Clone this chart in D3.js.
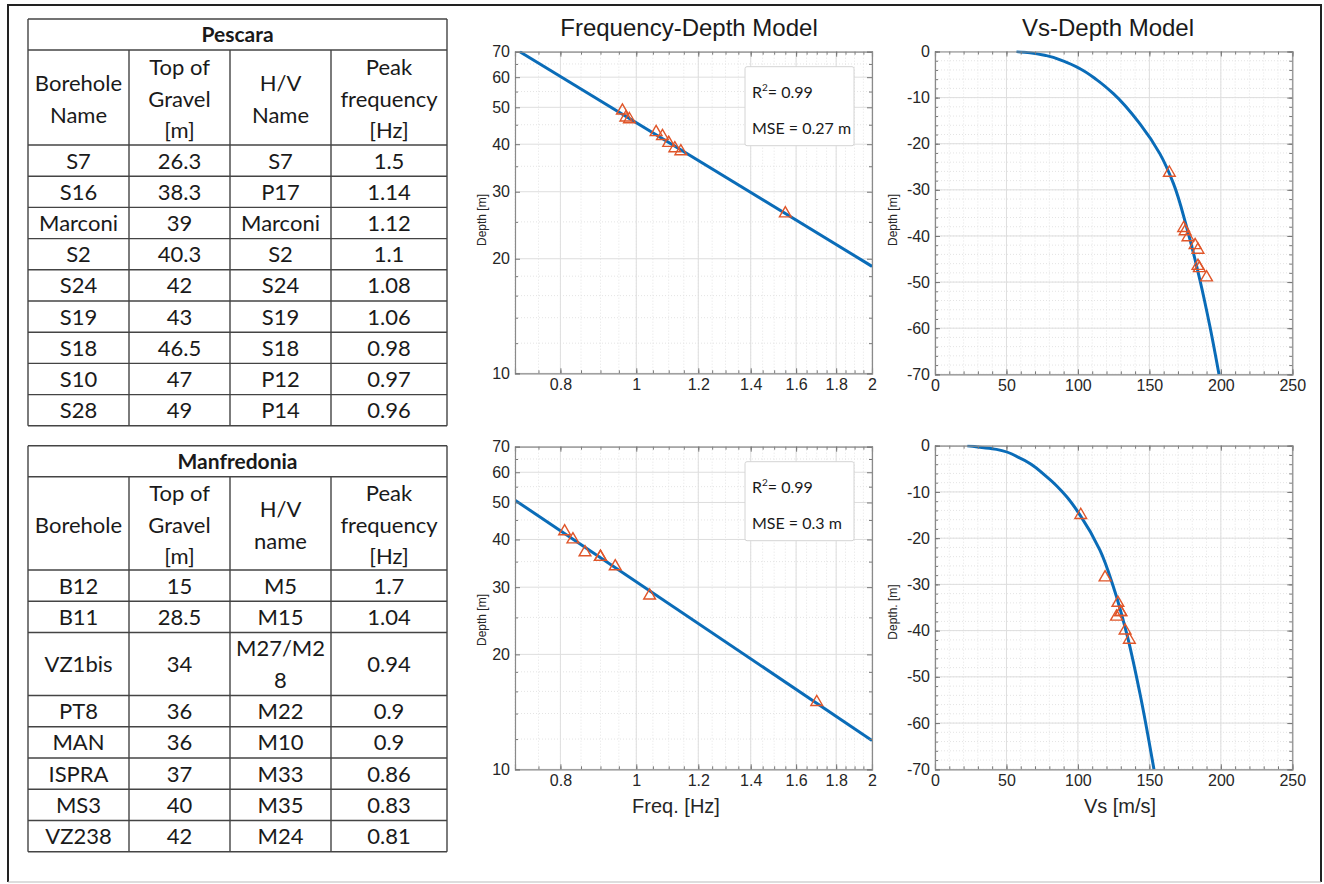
<!DOCTYPE html>
<html>
<head>
<meta charset="utf-8">
<title>Frequency-Depth and Vs-Depth models</title>
<script src="https://cdn.jsdelivr.net/npm/d3@7"></script>
<style>
  body { margin: 0; background: #fff; }
  .cell { font-family: Lato, "Open Sans", sans-serif; font-size: 22px; fill: #1a1a1a; text-anchor: middle; }
  .cell.title { font-weight: bold; font-size: 21px; }
  .tick text, .lbl { font-family: "Liberation Sans", Arial, sans-serif; fill: #262626; }
  .tick text { font-size: 16px; }
  .ttl { font-family: "Liberation Sans", Arial, sans-serif; font-size: 24px; fill: #1a1a1a; text-anchor: middle; }
  .leg { font-family: Lato, "Open Sans", sans-serif; font-size: 16px; fill: #1a1a1a; }
</style>
</head>
<body>
<svg id="fig" width="1324" height="884"></svg>
<script>
// ---- table data ----
var pescaraBorehole = ["S7", "S16", "Marconi", "S2", "S24", "S19", "S18", "S10", "S28"];
var pescaraGravel   = ["26.3", "38.3", "39", "40.3", "42", "43", "46.5", "47", "49"];
var pescaraHV       = ["S7", "P17", "Marconi", "S2", "S24", "S19", "S18", "P12", "P14"];
var pescaraPeak     = ["1.5", "1.14", "1.12", "1.1", "1.08", "1.06", "0.98", "0.97", "0.96"];

var manfBorehole = ["B12", "B11", "VZ1bis", "PT8", "MAN", "ISPRA", "MS3", "VZ238"];
var manfGravel   = ["15", "28.5", "34", "36", "36", "37", "40", "42"];
var manfHV       = ["M5", "M15", "M27/M2\n8", "M22", "M10", "M33", "M35", "M24"];
var manfPeak     = ["1.7", "1.04", "0.94", "0.9", "0.9", "0.86", "0.83", "0.81"];

var pescaraHeader = [["Borehole", "Name"], ["Top of", "Gravel", "[m]"], ["H/V", "Name"], ["Peak", "frequency", "[Hz]"]];
var manfHeader    = [["Borehole"], ["Top of", "Gravel", "[m]"], ["H/V", "name"], ["Peak", "frequency", "[Hz]"]];

// ---- plotted points ----
var pescaraFreq  = [1.55, 1.14, 1.12, 1.1, 1.08, 1.06, 0.98, 0.97, 0.96];
var pescaraDepth = [26.3, 38.3, 39, 40.3, 42, 43, 46.5, 47, 49];
var pescaraVs    = [164, 174, 175, 177, 182, 184, 184, 185, 190];

var manfFreq  = [1.7, 1.04, 0.94, 0.9, 0.9, 0.86, 0.83, 0.81];
var manfDepth = [15, 28.5, 34, 36, 36, 37, 40, 42];
var manfVs    = [102, 119, 128, 130, 130, 127, 133, 136];

// fitted power laws (straight in log-log): [freq, depth]
var pescaraFit = [[0.71, 70], [2, 19.1]];
var manfFit    = [[0.7, 50.7], [2, 11.9]];

// Vs model curves: [Vs, depth]
var pescaraVsCurve = [[57, 0], [66.5, -0.3], [78, -0.9], [90, -2.1], [101.5, -3.75], [113, -6.1], [125, -9.2],
  [143.4, -15.7], [157.4, -22.2], [166.8, -28.6], [176, -38], [185.4, -49.6], [192.4, -59.7], [198.7, -70]];
var manfVsCurve = [[22.6, 0], [43, -0.8], [59.5, -2.7], [78, -6.7], [92, -11], [101.5, -15], [115.4, -22.6],
  [124.8, -30.5], [134.1, -40.6], [143.4, -53.6], [153.2, -70]];

var stats = [{r2: "0.99", mse: "0.27 m"}, {r2: "0.99", mse: "0.3 m"}];

// ---- axis ticks ----
var freqTicks  = [0.8, 1, 1.2, 1.4, 1.6, 1.8, 2];
var freqMinor  = d3.range(0.7, 2.001, 0.05);
var depthTicks = [10, 20, 30, 40, 50, 60, 70];
var depthMinor = [12, 14, 16, 18, 25, 35, 45, 55, 65];
var vsTicks    = [0, 50, 100, 150, 200, 250];
var vsMinor    = d3.range(0, 251, 10);
var zTicks     = [-70, -60, -50, -40, -30, -20, -10, 0];
var zMinor     = d3.range(-70, 0.1, 2);

var svg = d3.select("#fig");

// outer frame
svg.append("path").attr("d", "M8,882V5H1321V882").attr("fill", "none").attr("stroke", "#222").attr("stroke-width", 2);
svg.append("line").attr("x1", 8).attr("x2", 1321).attr("y1", 882).attr("y2", 882).attr("stroke", "#bbb");

// ---- tables ----
var colX = [28, 129, 230, 331, 447];
var lineH = 31.5;

function drawTable(top, title, titleH, headerH, header, cols, rowH) {
  var g = svg.append("g");
  var nRows = cols[0].length;
  var rows = d3.range(nRows).map(function(i) {
    var cells = cols.map(function(c) { return c[i].split("\n"); });
    return {cells: cells, n: d3.max(cells, function(c) { return c.length; })};
  });
  var ys = [top, top + titleH, top + titleH + headerH];
  rows.forEach(function(r) { ys.push(ys[ys.length - 1] + rowH * r.n + (r.n - 1) * 0.5); });

  g.append("text").attr("class", "cell title").attr("x", (colX[0] + colX[4]) / 2)
    .attr("y", top + titleH / 2).attr("dy", "0.36em").text(title);

  function cellText(lines, cx, cy, gap) {
    lines.forEach(function(t, k) {
      g.append("text").attr("class", "cell").attr("x", cx)
        .attr("y", cy + (k - (lines.length - 1) / 2) * gap).attr("dy", "0.36em").text(t);
    });
  }
  header.forEach(function(lines, j) {
    cellText(lines, (colX[j] + colX[j + 1]) / 2, (ys[1] + ys[2]) / 2 + 1.5, lineH);
  });
  rows.forEach(function(r, i) {
    r.cells.forEach(function(lines, j) {
      cellText(lines, (colX[j] + colX[j + 1]) / 2, (ys[i + 2] + ys[i + 3]) / 2, lineH);
    });
  });

  var bottom = ys[ys.length - 1];
  g.selectAll(".h").data(ys).enter().append("line")
    .attr("x1", colX[0]).attr("x2", colX[4]).attr("y1", function(d) { return d; }).attr("y2", function(d) { return d; })
    .attr("stroke", "#444").attr("stroke-width", 1.4);
  g.selectAll(".v").data(colX).enter().append("line")
    .attr("x1", function(d) { return d; }).attr("x2", function(d) { return d; })
    .attr("y1", function(d, i) { return (i === 0 || i === 4) ? top : ys[1]; }).attr("y2", bottom)
    .attr("stroke", "#444").attr("stroke-width", 1.4);
}

drawTable(19, "Pescara", 31, 95, pescaraHeader, [pescaraBorehole, pescaraGravel, pescaraHV, pescaraPeak], 31.2);
drawTable(445.7, "Manfredonia", 31, 93.3, manfHeader, [manfBorehole, manfGravel, manfHV, manfPeak], 31.25);

// ---- axes helper ----
var plain = function(d) { return String(d); };
var clipId = 0;
function axesBox(x, y, xt, xm, yt, ym) {
  var g = svg.append("g");
  var x0 = x.range()[0], x1 = x.range()[1], yb = y.range()[0], yt0 = y.range()[1];

  g.append("rect").attr("x", x0).attr("y", yt0).attr("width", x1 - x0).attr("height", yb - yt0).attr("fill", "#fff");
  // grid
  g.selectAll(".gmx").data(xm).enter().append("line")
    .attr("x1", x).attr("x2", x).attr("y1", yt0).attr("y2", yb)
    .attr("stroke", "#e4e4e4").attr("stroke-dasharray", "1,2");
  g.selectAll(".gmy").data(ym).enter().append("line")
    .attr("y1", y).attr("y2", y).attr("x1", x0).attr("x2", x1)
    .attr("stroke", "#e4e4e4").attr("stroke-dasharray", "1,2");
  g.selectAll(".gx").data(xt).enter().append("line")
    .attr("x1", x).attr("x2", x).attr("y1", yt0).attr("y2", yb).attr("stroke", "#dedede");
  g.selectAll(".gy").data(yt).enter().append("line")
    .attr("y1", y).attr("y2", y).attr("x1", x0).attr("x2", x1).attr("stroke", "#dedede");

  var clip = "clip" + (clipId++);
  g.append("clipPath").attr("id", clip).append("rect")
    .attr("x", x0).attr("y", yt0 - 1).attr("width", x1 - x0).attr("height", yb - yt0 + 2);

  var axes = [
    d3.axisBottom(x).tickValues(xt).tickFormat(plain).tickSize(-5).tickPadding(5),
    d3.axisTop(x).tickValues(xt).tickFormat("").tickSize(-5),
    d3.axisLeft(y).tickValues(yt).tickFormat(plain).tickSize(-5).tickPadding(5),
    d3.axisRight(y).tickValues(yt).tickFormat("").tickSize(-5)
  ];
  var pos = ["translate(0," + yb + ")", "translate(0," + yt0 + ")", "translate(" + x0 + ",0)", "translate(" + x1 + ",0)"];
  var minor = [
    d3.axisBottom(x).tickValues(xm).tickFormat("").tickSize(-3),
    d3.axisTop(x).tickValues(xm).tickFormat("").tickSize(-3),
    d3.axisLeft(y).tickValues(ym).tickFormat("").tickSize(-3),
    d3.axisRight(y).tickValues(ym).tickFormat("").tickSize(-3)
  ];
  var front = svg.append("g");
  axes.forEach(function(a, i) {
    var m = front.append("g").attr("transform", pos[i]).call(minor[i]);
    m.select(".domain").remove();
    m.selectAll("line").attr("stroke", "#777");
    var ag = front.append("g").attr("transform", pos[i]).call(a);
    ag.select(".domain").attr("stroke", "#8a8a8a").attr("stroke-width", 1.2);
    ag.selectAll("line").attr("stroke", "#777");
  });
  return {g: g, front: front, clip: clip};
}

function legend(parent, x0, y0, s) {
  parent.append("rect").attr("x", x0).attr("y", y0).attr("width", 109).attr("height", 79)
    .attr("fill", "#fff").attr("stroke", "#d4d4d4").attr("rx", 2);
  var t = parent.append("text").attr("class", "leg").attr("x", x0 + 7).attr("y", y0 + 31);
  t.append("tspan").text("R");
  t.append("tspan").attr("dy", -7).attr("font-size", 10).text("2");
  t.append("tspan").attr("dy", 7).text("= " + s.r2);
  parent.append("text").attr("class", "leg").attr("x", x0 + 7).attr("y", y0 + 67).text("MSE = " + s.mse);
}

var tri = d3.symbol().type(d3.symbolTriangle).size(60);

function freqPlot(yTop, yBot, fit, freq, depth, s, labelY) {
  var x = d3.scaleLog().domain([0.7, 2]).range([515, 872]);
  var y = d3.scaleLog().domain([10, 70]).range([yBot, yTop]);
  var a = axesBox(x, y, freqTicks, freqMinor, depthTicks, depthMinor);
  var line = d3.line().x(function(d) { return x(d[0]); }).y(function(d) { return y(d[1]); });
  a.g.append("path").datum(fit).attr("d", line).attr("clip-path", "url(#" + a.clip + ")")
    .attr("fill", "none").attr("stroke", "#0a6cb8").attr("stroke-width", 3);
  a.g.selectAll(".pt").data(freq).enter().append("path")
    .attr("transform", function(d, i) { return "translate(" + x(d) + "," + y(depth[i]) + ")"; })
    .attr("d", tri).attr("fill", "none").attr("stroke", "#e0562a").attr("stroke-width", 1.4);
  legend(a.g, 745, yTop + 15, s);
  svg.append("text").attr("class", "lbl").attr("font-size", 12).attr("text-anchor", "middle")
    .attr("transform", "translate(486," + labelY + ") rotate(-90)").text("Depth [m]");
}

function vsPlot(yTop, yBot, curve, vs, depth, labelY, label) {
  var x = d3.scaleLinear().domain([0, 250]).range([935, 1292.3]);
  var y = d3.scaleLinear().domain([-70, 0]).range([yBot, yTop]);
  var a = axesBox(x, y, vsTicks, vsMinor, zTicks, zMinor);
  var line = d3.line().x(function(d) { return x(d[0]); }).y(function(d) { return y(d[1]); }).curve(d3.curveMonotoneY);
  a.g.append("path").datum(curve.slice().reverse()).attr("d", line).attr("clip-path", "url(#" + a.clip + ")")
    .attr("fill", "none").attr("stroke", "#0a6cb8").attr("stroke-width", 3);
  a.g.selectAll(".pt").data(vs).enter().append("path")
    .attr("transform", function(d, i) { return "translate(" + x(d) + "," + y(-depth[i]) + ")"; })
    .attr("d", tri).attr("fill", "none").attr("stroke", "#e0562a").attr("stroke-width", 1.4);
  svg.append("text").attr("class", "lbl").attr("font-size", 12).attr("text-anchor", "middle")
    .attr("transform", "translate(897," + labelY + ") rotate(-90)").text(label);
}

freqPlot(51.7, 373.3, pescaraFit, pescaraFreq, pescaraDepth, stats[0], 220);
freqPlot(446.7, 769.3, manfFit, manfFreq, manfDepth, stats[1], 620);
vsPlot(51.5, 374.3, pescaraVsCurve, pescaraVs, pescaraDepth, 220, "Depth [m]");
vsPlot(445.7, 769.3, manfVsCurve, manfVs, manfDepth, 612, "Depth. [m]");

// titles and x labels
svg.append("text").attr("class", "ttl").attr("x", 689).attr("y", 36).text("Frequency-Depth Model");
svg.append("text").attr("class", "ttl").attr("x", 1108).attr("y", 36).text("Vs-Depth Model");
svg.append("text").attr("class", "lbl").attr("font-size", 20).attr("text-anchor", "middle")
  .attr("x", 676).attr("y", 813).text("Freq. [Hz]");
svg.append("text").attr("class", "lbl").attr("font-size", 20).attr("text-anchor", "middle")
  .attr("x", 1120).attr("y", 813).text("Vs [m/s]");
</script>
</body>
</html>
